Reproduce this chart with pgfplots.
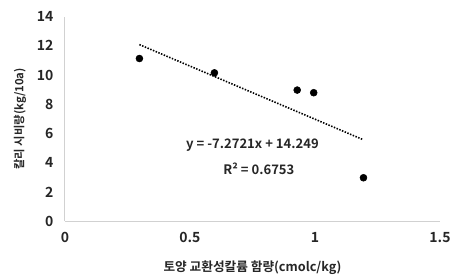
\documentclass[border=0pt]{standalone}
\usepackage{fontspec}
\setmainfont{Noto Sans CJK KR}[BoldFont={* Bold}]
\usepackage{pgfplots}
\pgfplotsset{compat=1.18}
\begin{document}
\begin{tikzpicture}
\begin{axis}[
  scale only axis,
  width=281.25pt, height=153.4pt,
  xmin=0, xmax=1.5, ymin=0, ymax=14,
  xtick={0,0.5,1,1.5},
  xticklabels={0,0.5,1,1.5},
  ytick={0,2,4,6,8,10,12,14},
  axis lines*=left,
  axis line style={draw=black!18, line width=0.8pt, -},
  major tick length=0pt,
  tick label style={font=\fontsize{10.5}{12}\selectfont\bfseries, text=black!85},
  /pgf/number format/assume math mode=true,
  yticklabel style={xshift=-5pt},
  xticklabel style={yshift=-5pt},
  clip=false,
]
\addplot[only marks, mark=*, mark size=2.6pt, color=black] coordinates {
  (0.298,11.13) (0.598,10.15) (0.929,8.97) (0.995,8.79) (1.194,2.97)
};
\addplot[black, line width=1.2pt, dash pattern=on 1.1pt off 1.1pt] coordinates {
  (0.298,12.082) (1.194,5.566)
};
\node[font=\fontsize{9.8}{11}\selectfont\bfseries, text=black!85] at (axis cs:0.75,5.2) {y = -7.2721x + 14.249};
\node[font=\fontsize{9.8}{11}\selectfont\bfseries, text=black!85] at (axis cs:0.776,3.56) {R² = 0.6753};
\node[font=\fontsize{9.5}{10}\selectfont\bfseries, text=black!85] at (rel axis cs:0.5,-0.227) {토양 교환성칼륨 함량(cmolc/kg)};
\node[font=\fontsize{8.5}{10}\selectfont\bfseries, text=black!85, rotate=90] at (rel axis cs:-0.12,0.5) {칼리 시비량(kg/10a)};
\path (rel axis cs:-0.173,-0.274) rectangle (rel axis cs:1.048,1.081);
\end{axis}
\end{tikzpicture}
\end{document}
